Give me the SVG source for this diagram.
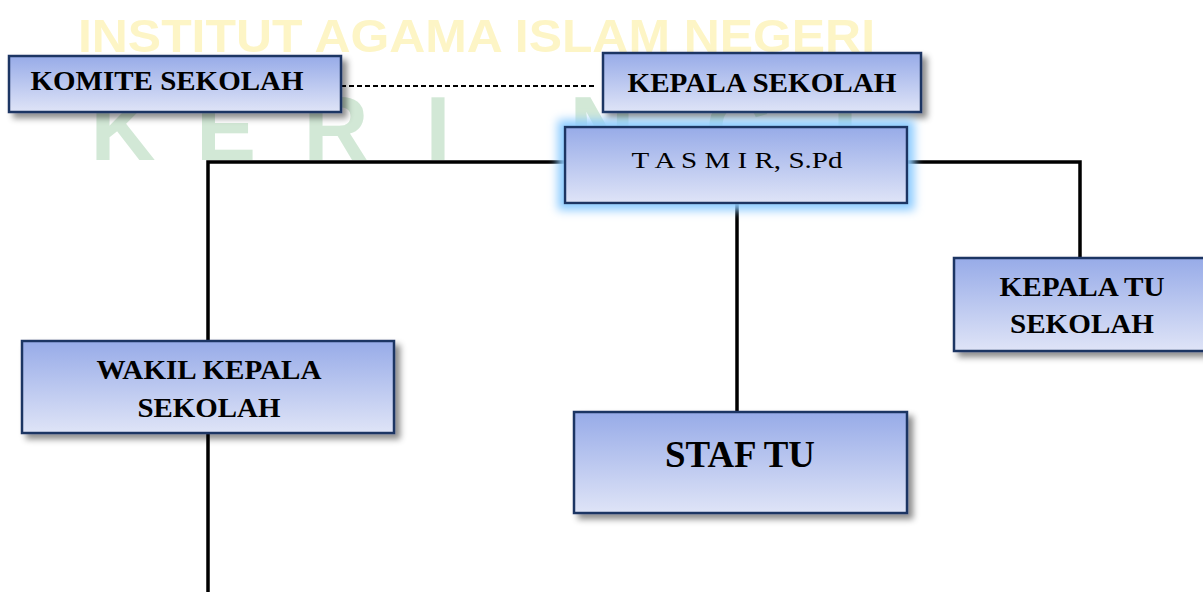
<svg xmlns="http://www.w3.org/2000/svg" width="1203" height="592" viewBox="0 0 1203 592">
<defs>
<linearGradient id="g" x1="0" y1="0" x2="0" y2="1">
<stop offset="0" stop-color="#97abe8"/>
<stop offset="1" stop-color="#dfe4f7"/>
</linearGradient>
<filter id="sh" x="-10%" y="-20%" width="130%" height="150%">
<feGaussianBlur in="SourceAlpha" stdDeviation="3"/>
<feOffset dx="5" dy="5" result="b"/>
<feFlood flood-color="#000" flood-opacity="0.45"/>
<feComposite in2="b" operator="in"/>
<feMerge><feMergeNode/><feMergeNode in="SourceGraphic"/></feMerge>
</filter>
<filter id="glow" x="-20%" y="-40%" width="140%" height="180%">
<feMorphology in="SourceAlpha" operator="dilate" radius="6" result="d"/>
<feGaussianBlur in="d" stdDeviation="5" result="b"/>
<feFlood flood-color="#8ccbff" flood-opacity="1"/>
<feComposite in2="b" operator="in"/>
<feMerge><feMergeNode/><feMergeNode in="SourceGraphic"/></feMerge>
</filter>
</defs>
<style>
.box{fill:url(#g);stroke:#1f3563;stroke-width:2.5}
.t{font-family:"Liberation Serif","Times New Roman",serif;font-weight:bold;fill:#000;text-anchor:middle}
.n{font-weight:normal}
.ln{stroke:#000;stroke-width:3.5;fill:none}
.wm1{font-family:"Liberation Sans",Arial,sans-serif;font-weight:bold;font-size:47px;fill:#fdf5c6}
.wm2{font-family:"Liberation Sans",Arial,sans-serif;font-weight:bold;font-size:90px;fill:#d2e8d6;text-anchor:middle}
</style>
<rect width="1203" height="592" fill="#fff"/>
<g id="watermark">
<text class="wm1" x="78" y="52" textLength="797" lengthAdjust="spacingAndGlyphs">INSTITUT AGAMA ISLAM NEGERI</text>
<text class="wm2" x="123" y="160">K</text>
<text class="wm2" x="226" y="160">E</text>
<text class="wm2" x="336" y="160">R</text>
<text class="wm2" x="438" y="160">I</text>
<text class="wm2" x="602" y="160">N</text>
<text class="wm2" x="738" y="160">C</text>
<text class="wm2" x="845" y="160">I</text>
</g>
<g id="connectors">
<line x1="341" y1="86" x2="594" y2="86" stroke="#000" stroke-width="1.8" stroke-dasharray="5,3"/>
<polyline class="ln" points="565,162 208,162 208,341"/>
<polyline class="ln" points="907,162 1080,162 1080,258"/>
<line class="ln" x1="737" y1="203" x2="737" y2="412"/>
<line class="ln" x1="208" y1="433" x2="208" y2="592"/>
</g>
<g id="komite">
<rect class="box" x="9" y="56" width="332" height="56" filter="url(#sh)"/>
<text class="t" x="167" y="90" font-size="27" textLength="273" lengthAdjust="spacingAndGlyphs">KOMITE SEKOLAH</text>
</g>
<g id="kepala">
<rect class="box" x="603" y="53" width="318" height="59" filter="url(#sh)"/>
<text class="t" x="762" y="92" font-size="27" textLength="269" lengthAdjust="spacingAndGlyphs">KEPALA SEKOLAH</text>
</g>
<g id="tasmir">
<rect class="box" x="565" y="127" width="342" height="76" filter="url(#glow)"/>
<text class="t n" x="737" y="168" font-size="24" textLength="211" lengthAdjust="spacingAndGlyphs">T A S M I R, S.Pd</text>
</g>
<g id="kepala-tu">
<rect class="box" x="954" y="258" width="256" height="93" filter="url(#sh)"/>
<text class="t" x="1082" y="296" font-size="27" textLength="165" lengthAdjust="spacingAndGlyphs">KEPALA TU</text>
<text class="t" x="1082" y="333" font-size="27" textLength="144" lengthAdjust="spacingAndGlyphs">SEKOLAH</text>
</g>
<g id="wakil">
<rect class="box" x="22" y="341" width="372" height="92" filter="url(#sh)"/>
<text class="t" x="209" y="379" font-size="27" textLength="225" lengthAdjust="spacingAndGlyphs">WAKIL KEPALA</text>
<text class="t" x="209" y="417" font-size="27" textLength="143" lengthAdjust="spacingAndGlyphs">SEKOLAH</text>
</g>
<g id="staf">
<rect class="box" x="574" y="412" width="333" height="101" filter="url(#sh)"/>
<text class="t" x="740" y="467" font-size="37" textLength="150" lengthAdjust="spacingAndGlyphs">STAF TU</text>
</g>
</svg>
